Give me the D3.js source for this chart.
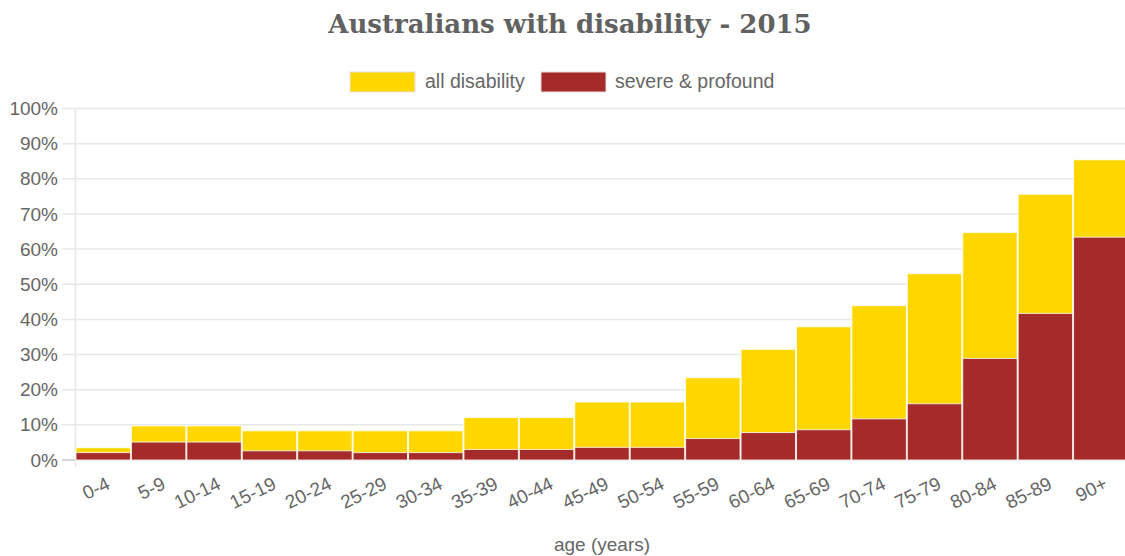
<!DOCTYPE html>
<html>
<head>
<meta charset="utf-8">
<script src="https://cdn.jsdelivr.net/npm/d3@7"></script>
<style>
  body { margin: 0; background: #fff; }
  svg { display: block; }
  text { font-family: "Liberation Sans", Arial, sans-serif; fill: #666; }
</style>
</head>
<body>
<svg id="chart" width="1125" height="556"></svg>
<script>
const categories = ["0-4","5-9","10-14","15-19","20-24","25-29","30-34","35-39","40-44","45-49","50-54","55-59","60-64","65-69","70-74","75-79","80-84","85-89","90+"];
const allDisability = [3.5, 9.7, 9.7, 8.3, 8.3, 8.3, 8.3, 12.1, 12.1, 16.5, 16.5, 23.4, 31.5, 37.9, 43.9, 53.0, 64.7, 75.6, 85.4];
const severeProfound = [2.1, 5.1, 5.1, 2.6, 2.6, 2.1, 2.1, 3.0, 3.0, 3.6, 3.6, 6.1, 7.8, 8.6, 11.7, 16.0, 28.9, 41.7, 63.4];
const yTicks = [0, 10, 20, 30, 40, 50, 60, 70, 80, 90, 100];
const seriesNames = ["all disability", "severe & profound"];
const seriesColors = ["#FFD700", "#A52A2A"];
const titleText = "Australians with disability - 2015";
const xTitle = "age (years)";

const svg = d3.select("#chart");
const plotLeft = 75.5, plotRight = 1128.5, plotTop = 108.5, plotBottom = 460;

const x = d3.scaleBand().domain(categories).range([plotLeft, plotRight]).padding(0);
const y = d3.scaleLinear().domain([0, 100]).range([plotBottom, plotTop]);

// Title
svg.append("text")
  .attr("x", 570).attr("y", 33)
  .attr("text-anchor", "middle")
  .style("font-family", "'DejaVu Serif', Georgia, serif")
  .style("font-weight", "bold")
  .style("font-size", "26px")
  .style("fill", "#616161")
  .text(titleText);

// Legend
const legendItems = [
  {name: seriesNames[0], color: seriesColors[0], bx: 350, tx: 425},
  {name: seriesNames[1], color: seriesColors[1], bx: 541, tx: 615}
];
legendItems.forEach(d => {
  svg.append("rect").attr("x", d.bx).attr("y", 72).attr("width", 65).attr("height", 20)
    .attr("fill", d.color).attr("stroke", "#e2e2e2").attr("stroke-width", 1);
  svg.append("text").attr("x", d.tx).attr("y", 88).style("font-size", "19.5px").text(d.name);
});

// Grid
const grid = svg.append("g");
yTicks.forEach(t => {
  grid.append("line").attr("x1", 62).attr("x2", plotRight).attr("y1", y(t)).attr("y2", y(t))
    .attr("stroke", t === 0 ? "#c8c8c8" : "#e8e8e8").attr("stroke-width", 1.5);
});
grid.append("line").attr("x1", plotLeft).attr("x2", plotLeft).attr("y1", plotTop).attr("y2", plotBottom + 7)
  .attr("stroke", "#e8e8e8").attr("stroke-width", 1.5);

// Y axis labels
const yAxis = d3.axisLeft(y).tickValues(yTicks).tickFormat(d => d + "%").tickSize(0).tickPadding(0);
const yg = svg.append("g").attr("transform", `translate(58,0)`).call(yAxis);
yg.select(".domain").remove();
yg.selectAll("text").style("font-size", "19px").style("font-family", "'Liberation Sans', Arial, sans-serif").attr("fill", "#666");

// Bars
const bars = svg.append("g");
[allDisability, severeProfound].forEach((series, si) => {
  bars.selectAll(null).data(series).enter().append("rect")
    .attr("x", (d, i) => x(categories[i]) + 0.5)
    .attr("width", x.bandwidth() - 1)
    .attr("y", d => y(d))
    .attr("height", d => plotBottom - y(d))
    .attr("fill", seriesColors[si])
    .attr("stroke", "#ffffff").attr("stroke-width", 1)
    .attr("stroke-opacity", 0.8);
});

// X axis labels
const xAxis = d3.axisBottom(x).tickSize(0).tickPadding(0);
const xg = svg.append("g").attr("transform", `translate(0,${plotBottom})`).call(xAxis);
xg.select(".domain").remove();
xg.selectAll("text")
  .style("font-size", "19px").style("font-family", "'Liberation Sans', Arial, sans-serif")
  .attr("fill", "#666")
  .attr("text-anchor", "end")
  .attr("dy", "0")
  .attr("y", 0)
  .attr("transform", "translate(8,28) rotate(-26)");

// X title
svg.append("text").attr("x", 602).attr("y", 551).attr("text-anchor", "middle")
  .style("font-size", "19px").text(xTitle);
</script>
</body>
</html>
